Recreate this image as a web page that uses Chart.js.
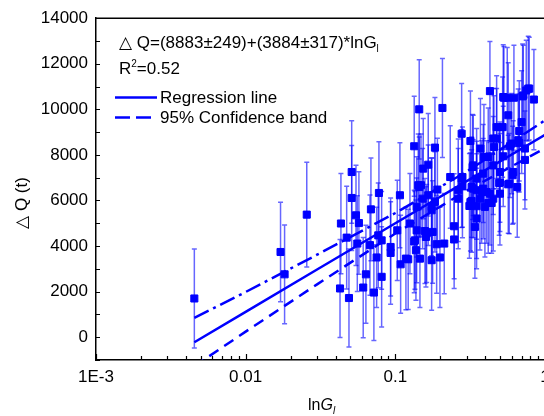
<!DOCTYPE html>
<html lang="en">

<head>
    <meta charset="UTF-8" />
    <title>Delta Q vs lnGl</title>
    <script src="https://cdn.jsdelivr.net/npm/chart.js"></script>
    <style>
        body { margin: 0; overflow: hidden; background: #fff; }
        canvas { display: block; }
    </style>
</head>

<body>
    <canvas id="chart" width="560" height="416"></canvas>

    <script>
        const gl = [0.00454, 0.0171, 0.0182, 0.0256,
            0.0427, 0.0433, 0.0473, 0.0490, 0.0511, 0.0511,
            0.0546, 0.0557, 0.0571, 0.0610, 0.0636, 0.0677,
            0.0687, 0.0719, 0.0750, 0.0769, 0.0777, 0.0810, 0.0810,
            0.0930, 0.0930, 0.1030, 0.1073, 0.1085, 0.1177, 0.1219,
            0.1252, 0.1337, 0.1337, 0.1352, 0.1373, 0.1388, 0.1388,
            0.1422, 0.1444, 0.1444, 0.1460, 0.1483, 0.1522, 0.1536,
            0.1577, 0.1601, 0.1619, 0.1659, 0.1659, 0.1748, 0.1748, 0.1748,
            0.1775, 0.1839, 0.1839, 0.1888, 0.1910, 0.1986, 0.2064,
            0.2122, 0.2327, 0.2471, 0.2471, 0.2632, 0.2632, 0.2774, 0.2774,
            0.2808, 0.2808, 0.3126, 0.3175, 0.3175, 0.3235, 0.3235, 0.3284,
            0.3314, 0.3314, 0.3402, 0.3492, 0.3492, 0.3492, 0.3492, 0.3674,
            0.3703, 0.3772, 0.3866, 0.3866, 0.3908, 0.3968, 0.4074, 0.4176,
            0.4176, 0.4286, 0.4286, 0.4400, 0.4511, 0.4511, 0.4511, 0.4560,
            0.4751, 0.4751, 0.4943, 0.4999, 0.4999, 0.4999, 0.5211, 0.5259,
            0.5259, 0.5316, 0.5593, 0.5680, 0.5680, 0.5768, 0.5830, 0.5985,
            0.6078, 0.6134, 0.6200, 0.6522, 0.6624, 0.6727, 0.6727,
            0.6980, 0.7089, 0.7155, 0.7344, 0.7344, 0.7493, 0.7728, 0.7846, 0.8430];

        const dq = [1700, 3740, 2760, 5380,
            2140, 4990, 4370, 1720, 6110, 7250,
            5350, 4110, 5010, 2180, 2760, 4040,
            5610, 1960, 3500, 4470, 6330, 4250, 2650,
            3960, 3700, 4690, 6230, 3200, 3450, 3420,
            4990, 8380, 4200, 4250, 3820, 4690, 5720,
            6670, 10000, 6590, 3450, 6670, 6080, 7400,
            4660, 4400, 4550, 7570, 6230, 3380, 5570, 5720,
            4620, 8320, 5940, 4080, 6480, 3500, 10060,
            4110, 7030, 4290, 4870, 6080, 6450, 8930, 6960,
            6620, 7030, 5760, 8610, 5930, 5980, 6590, 7470,
            7540, 6520, 4840, 5210, 5750, 6960, 6450, 6080,
            8280, 6370, 6520, 7180, 7910, 5720, 6370, 5890,
            7910, 10800, 6300, 5890, 6080, 8720, 7540, 8350,
            8720, 9220, 6770, 7250, 6790, 6300, 9220, 10540,
            7940, 10510, 10510, 9740, 6710, 6740, 8380, 8500,
            7110, 7250, 10510, 6590, 8640, 8520, 9050,
            9440, 10570, 10610, 7780, 8280, 10830, 10910, 10910, 10430];

        const dqErr = [2170, 2180, 2170, 2300,
            2150, 2200, 2250, 2150, 2300, 2250,
            2200, 2100, 2250, 2200, 2150, 2200,
            2250, 2100, 2200, 2300, 2250, 2150, 2200,
            2150, 2250, 2200, 2300, 2150, 2250, 2200,
            2200, 2190, 2250, 2150, 2200, 2300, 2200,
            2250, 2180, 2200, 2150, 2250, 2200, 2200,
            2300, 2200, 2150, 2250, 2200, 2200, 2300, 2150,
            2250, 2200, 2200, 2150, 2250, 2200, 2170,
            2200, 2250, 2150, 2300, 2200, 2250, 2200, 2150,
            2250, 2200, 2300, 2200, 2150, 2250, 2200, 2300,
            2200, 2150, 2250, 2200, 2300, 2200, 2150, 2250,
            2200, 2250, 2200, 2150, 2300, 2200, 2250, 2200,
            2150, 2180, 2250, 2200, 2300, 2200, 2150, 2250,
            2200, 2250, 2300, 2200, 2150, 2250, 2200, 2300,
            2200, 2250, 2200, 2300, 2150, 2200, 2250, 2200,
            2150, 2250, 2300, 2200, 2250, 2150, 2200,
            2250, 2300, 2200, 2150, 2250, 2200, 2300, 2250, 2200];

        // fitted line and 95% band, read at a few x positions
        const fitX = [0.00454, 0.01, 0.03, 0.1, 0.3, 1];
        const fitY = [-220, 1115, 2970, 5000, 6850, 8883];
        const bandUpper = [846, 1985, 3620, 5450, 7270, 9520];
        const bandLower = [-1270, 245, 2320, 4550, 6430, 8290];

        const xTicks = [0.001, 0.01, 0.1, 1];
        const xTickLabels = ['1E-3', '0.01', '0.1', '1'];
        const yTicks = [0, 2000, 4000, 6000, 8000, 10000, 12000, 14000];

        const FONT = "'Liberation Sans', Arial, 'DejaVu Sans', sans-serif";
        const BLUE = '#0000ff';

        function xy(xs, ys) {
            return xs.map((x, i) => ({ x: x, y: ys[i] }));
        }

        // error bars, drawn under the markers
        const errorBars = {
            id: 'errorBars',
            beforeDatasetsDraw(chart) {
                const { ctx, chartArea, scales } = chart;
                ctx.save();
                ctx.beginPath();
                ctx.rect(chartArea.left, chartArea.top, chartArea.right - chartArea.left, chartArea.bottom - chartArea.top);
                ctx.clip();
                ctx.strokeStyle = 'rgba(0,0,255,0.6)';
                ctx.lineWidth = 1.5;
                gl.forEach((g, i) => {
                    const px = scales.x.getPixelForValue(g);
                    const top = scales.y.getPixelForValue(dq[i] + dqErr[i]);
                    const bot = scales.y.getPixelForValue(dq[i] - dqErr[i]);
                    ctx.beginPath();
                    ctx.moveTo(px, top); ctx.lineTo(px, bot);
                    ctx.moveTo(px - 2.5, top); ctx.lineTo(px + 2.5, top);
                    ctx.moveTo(px - 2.5, bot); ctx.lineTo(px + 2.5, bot);
                    ctx.stroke();
                });
                ctx.restore();
            }
        };

        function textRun(ctx, parts, x, y) {
            // parts: [text, size, style, dy]
            for (const p of parts) {
                ctx.font = (p[2] || '') + ' ' + p[1] + 'px ' + FONT;
                ctx.fillText(p[0], x, y + (p[3] || 0));
                x += ctx.measureText(p[0]).width;
            }
        }

        // frame, inward ticks, annotation and axis titles
        const decor = {
            id: 'decor',
            afterDraw(chart) {
                const { ctx, chartArea: a, scales } = chart;
                ctx.save();
                ctx.strokeStyle = '#000';
                ctx.lineWidth = 1.5;
                ctx.beginPath();
                ctx.moveTo(a.left, a.top); ctx.lineTo(a.right, a.top);
                ctx.stroke();

                ctx.lineWidth = 1.2;
                ctx.beginPath();
                for (let v = -1000; v <= 14000; v += 1000) {
                    const py = Math.round(scales.y.getPixelForValue(v)) + 0.5;
                    ctx.moveTo(a.left, py); ctx.lineTo(a.left + 4, py);
                }
                for (let d = 0.001; d < 1.5; d *= 10) {
                    for (let m = 1; m <= 9; m++) {
                        const v = d * m;
                        if (v > 1.0001) break;
                        const px = Math.round(scales.x.getPixelForValue(v)) + 0.5;
                        const len = m === 1 ? 6 : 4;
                        ctx.moveTo(px, a.bottom); ctx.lineTo(px, a.bottom - len);
                    }
                }
                ctx.stroke();

                ctx.fillStyle = '#000';
                ctx.textBaseline = 'alphabetic';
                ctx.textAlign = 'left';
                textRun(ctx, [['\u25B3 Q=(8883\u00B1249)+(3884\u00B1317)*lnG', 17], ['l', 10, '', 4]], 119, 48);
                textRun(ctx, [['R', 17], ['2', 10, '', -7], ['=0.52', 17]], 119, 74);

                ctx.strokeStyle = BLUE;
                ctx.lineWidth = 2.5;
                ctx.beginPath();
                ctx.moveTo(115, 97.5); ctx.lineTo(157, 97.5);
                ctx.stroke();
                ctx.setLineDash([15, 6]);
                ctx.beginPath();
                ctx.moveTo(115, 117.5); ctx.lineTo(151, 117.5);
                ctx.stroke();
                ctx.setLineDash([]);
                textRun(ctx, [['Regression line', 17]], 160, 103);
                textRun(ctx, [['95% Confidence band', 17]], 160, 123);

                textRun(ctx, [['ln', 16], ['G', 16, 'italic'], ['l', 10, 'italic', 4]], 308, 410);

                ctx.translate(22, 203);
                ctx.rotate(-Math.PI / 2);
                ctx.textAlign = 'center';
                ctx.textBaseline = 'middle';
                ctx.font = '17px ' + FONT;
                ctx.fillText('\u25B3 Q (t)', 0, 0);
                ctx.restore();
            }
        };

        new Chart(document.getElementById('chart'), {
            type: 'scatter',
            data: {
                datasets: [
                    {
                        type: 'line',
                        data: xy(fitX, fitY),
                        borderColor: BLUE,
                        borderWidth: 2.5,
                        pointRadius: 0,
                        fill: false,
                    },
                    {
                        type: 'line',
                        data: xy(fitX, bandUpper),
                        borderColor: BLUE,
                        borderWidth: 2.5,
                        borderDash: [16, 5, 3, 5],
                        pointRadius: 0,
                        fill: false,
                    },
                    {
                        type: 'line',
                        data: xy(fitX, bandLower),
                        borderColor: BLUE,
                        borderWidth: 2.5,
                        borderDash: [11, 7],
                        pointRadius: 0,
                        fill: false,
                    },
                    {
                        data: xy(gl, dq),
                        pointStyle: 'rect',
                        pointRadius: 5,
                        borderWidth: 1,
                        backgroundColor: BLUE,
                        borderColor: BLUE,
                    },
                ],
            },
            options: {
                responsive: false,
                animation: false,
                events: [],
                layout: { padding: { top: 18, right: 15, left: 0, bottom: 0 } },
                plugins: { legend: { display: false }, tooltip: { enabled: false } },
                scales: {
                    x: {
                        type: 'logarithmic',
                        min: 0.001,
                        max: 1,
                        afterBuildTicks: (s) => { s.ticks = xTicks.map((v) => ({ value: v })); },
                        afterFit: (s) => { s.height = 56; },
                        grid: { display: false, drawTicks: false },
                        border: { display: true, color: '#000', width: 1.5 },
                        ticks: {
                            autoSkip: false,
                            maxRotation: 0,
                            padding: 7,
                            color: '#000',
                            font: { size: 17, family: FONT },
                            callback: (v) => xTickLabels[xTicks.indexOf(v)],
                        },
                    },
                    y: {
                        min: -1000,
                        max: 14000,
                        afterBuildTicks: (s) => { s.ticks = yTicks.map((v) => ({ value: v })); },
                        afterFit: (s) => { s.width = 96; },
                        grid: { display: false, drawTicks: false },
                        border: { display: true, color: '#000', width: 1.5 },
                        ticks: {
                            padding: 8,
                            color: '#000',
                            font: { size: 17, family: FONT },
                            callback: (v) => String(v),
                        },
                    },
                },
            },
            plugins: [errorBars, decor],
        });
    </script>
</body>

</html>
